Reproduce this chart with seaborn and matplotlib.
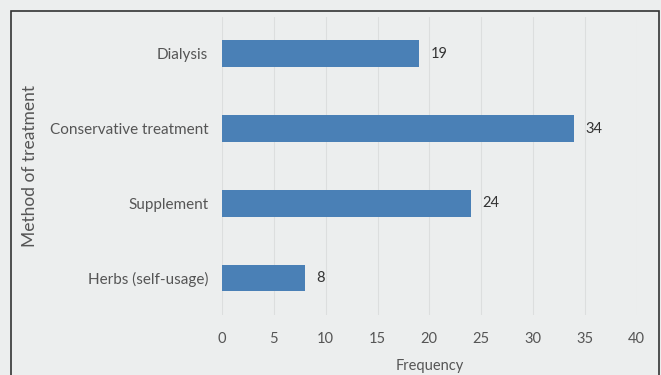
import pandas as pd
import matplotlib.pyplot as plt
import matplotlib.patches as mpatches
import seaborn as sns

# DATA
methods = ["Dialysis", "Conservative treatment", "Supplement", "Herbs (self-usage)"]
frequency = [19, 34, 24, 8]

df = pd.DataFrame({"Method": methods, "Frequency": frequency})

sns.set_theme(style="white")
plt.rcParams['font.family'] = ['Lato', 'DejaVu Sans']

bg = '#eceeee'
fig = plt.figure(figsize=(6.61, 3.75), dpi=100, facecolor=bg)
ax = fig.add_axes([0.336, 0.159, 0.627, 0.797])
ax.set_facecolor(bg)

sns.barplot(data=df, x="Frequency", y="Method", color='#4a80b6', width=0.36,
            saturation=1, linewidth=0, ax=ax, zorder=3)

# value labels next to each bar
for i, v in enumerate(frequency):
    ax.text(v + 1.1, i, str(v), va='center', ha='left', fontsize=10.5, color='#333333')

ax.set_xlim(0, 40)
ax.set_ylim(3.5, -0.5)
ax.set_xticks(range(0, 41, 5))
ax.grid(axis='x', color='#dcdede', linewidth=0.8, zorder=0)
for s in ax.spines.values():
    s.set_visible(False)
ax.tick_params(axis='both', length=0, labelsize=10.5, labelcolor='#555555')
ax.tick_params(axis='y', labelsize=11)
ax.tick_params(axis='x', pad=12)
ax.tick_params(axis='y', pad=10)
ax.set_xlabel("Frequency", fontsize=10.5, color='#555555', labelpad=9)
ax.set_ylabel("Method of treatment", fontsize=12.5, color='#555555')
ax.yaxis.set_label_coords(-0.445, 0.5)

# outer frame
fig.patches.append(mpatches.Rectangle((0.016, -0.05), 0.981, 1.02, transform=fig.transFigure,
                                      fill=False, edgecolor='#333333', linewidth=1.2))

plt.savefig("out.png", dpi=100, facecolor=bg)
